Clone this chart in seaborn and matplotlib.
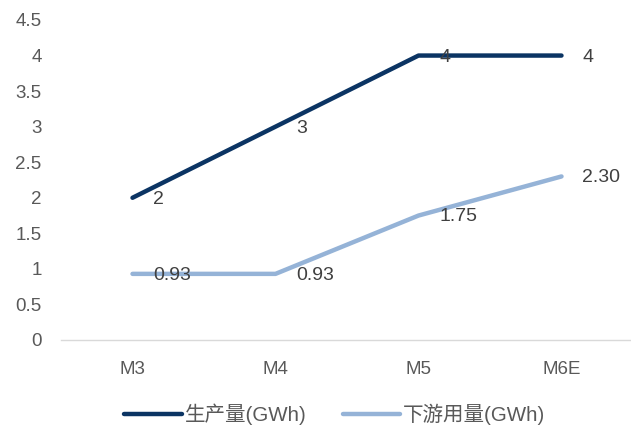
import matplotlib
matplotlib.use("Agg")
import matplotlib.pyplot as plt
import seaborn as sns
import pandas as pd
from matplotlib.lines import Line2D

categories = ["M3", "M4", "M5", "M6E"]
production = [2, 3, 4, 4]
downstream = [0.93, 0.93, 1.75, 2.30]
prod_labels = ["2", "3", "4", "4"]
down_labels = ["0.93", "0.93", "1.75", "2.30"]
series_names = ["生产量(GWh)", "下游用量(GWh)"]
colors = ["#0B3463", "#95B3D7"]

sns.set_theme(style="white")
plt.rcParams['font.family'] = ['Liberation Sans', 'Noto Sans CJK SC', 'DejaVu Sans']

df = pd.DataFrame({
    "cat": categories * 2,
    "x": list(range(len(categories))) * 2,
    "value": production + downstream,
    "series": [series_names[0]] * 4 + [series_names[1]] * 4,
})

fig = plt.figure(figsize=(6.31, 4.26), dpi=100)
ax = fig.add_axes([61 / 631, 86 / 426, 572 / 631, 320 / 426])
sns.lineplot(data=df, x="x", y="value", hue="series", palette=colors,
             linewidth=3.2, ax=ax, legend=False, solid_capstyle="round")

for xi, (v, t) in enumerate(zip(production, prod_labels)):
    ax.annotate(t, (xi, v), xytext=(15, -1.5), textcoords="offset points",
                ha="left", va="center", fontsize=14, color="#404040")
for xi, (v, t) in enumerate(zip(downstream, down_labels)):
    ax.annotate(t, (xi, v), xytext=(15, -1), textcoords="offset points",
                ha="left", va="center", fontsize=14, color="#404040")

ax.set_xlim(-0.5, 3.5)
ax.set_ylim(0, 4.5)
ax.set_xticks(range(len(categories)))
ax.set_xticklabels(categories)
ax.set_yticks([0, 0.5, 1, 1.5, 2, 2.5, 3, 3.5, 4, 4.5])
ax.set_yticklabels(["0", "0.5", "1", "1.5", "2", "2.5", "3", "3.5", "4", "4.5"])
ax.tick_params(axis="both", length=0, labelsize=13.5, labelcolor="#595959")
ax.tick_params(axis="x", pad=15)
ax.tick_params(axis="y", pad=14)
ax.set_xlabel("")
ax.set_ylabel("")
for s in ["top", "right", "left"]:
    ax.spines[s].set_visible(False)
ax.spines["bottom"].set_color("#D9D9D9")
ax.spines["bottom"].set_linewidth(1)
ax.grid(False)

handles = [Line2D([0], [0], color=c, lw=3.2, solid_capstyle="round") for c in colors]
fig.legend(handles, series_names, loc="center", bbox_to_anchor=(335 / 631, 12 / 426),
           ncol=2, frameon=False, fontsize=14.8, handlelength=2.8, columnspacing=1.75,
           handletextpad=0.15, labelcolor="#595959")

fig.savefig("out.png", dpi=100)
